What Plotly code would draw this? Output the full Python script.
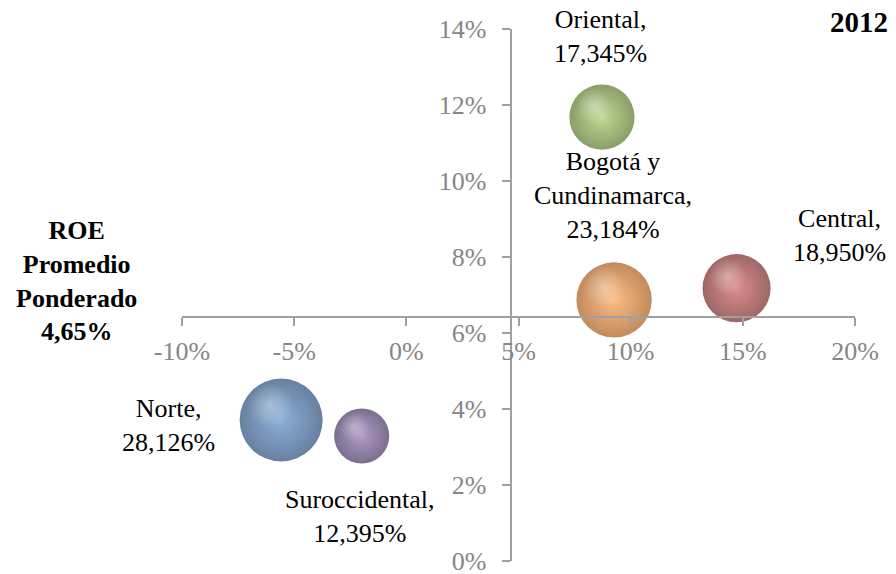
import numpy as np
import plotly.graph_objects as go

# Regional data (2012): x = ROE growth proxy, y = ROE, size = participation
regiones = ["Norte", "Suroccidental", "Oriental", "Bogotá y<br>Cundinamarca", "Central"]
eje_x = [-5.58, -1.99, 8.72, 9.26, 14.72]
eje_y = [3.71, 3.29, 11.68, 6.87, 7.18]
participacion = [28.126, 12.395, 17.345, 23.184, 18.950]

x_ticks = [-10, -5, 0, 5, 10, 15, 20]
y_ticks = [0, 2, 4, 6, 8, 10, 12, 14]
roe_promedio = 4.65      # vertical axis crosses here
cruce_y = 6.43           # horizontal axis crosses here

colores = ["#5a8cc8", "#8c70b0", "#a6c865", "#f9a050", "#cc5c58"]
bordes = ["#284a78", "#45305e", "#587528", "#a85818", "#742624"]

W, H = 896, 574
M = dict(l=182, r=41, t=29, b=13)
X_RANGE = [-10, 20]
Y_RANGE = [0, 14]
D_MAX = 83  # px diameter of the largest bubble
sizeref = 2.0 * max(participacion) / D_MAX ** 2

px_x = (W - M["l"] - M["r"]) / (X_RANGE[1] - X_RANGE[0])
px_y = (H - M["t"] - M["b"]) / (Y_RANGE[1] - Y_RANGE[0])
diam = D_MAX * np.sqrt(np.array(participacion) / max(participacion))

fig = go.Figure()

# spheres: radial shading from base colour in the centre to a darker rim
fig.add_trace(go.Scatter(
    x=eje_x, y=eje_y, mode="markers",
    marker=dict(size=participacion, sizemode="area", sizeref=sizeref,
                color=bordes, line=dict(width=0),
                gradient=dict(type="radial", color=colores)),
    hoverinfo="skip", cliponaxis=False, showlegend=False))

# specular highlight towards the upper left of each sphere
fig.add_trace(go.Scatter(
    x=list(np.array(eje_x) - 0.13 * diam / px_x),
    y=list(np.array(eje_y) + 0.17 * diam / px_y),
    mode="markers",
    marker=dict(size=list(np.array(participacion) * 0.3), sizemode="area",
                sizeref=sizeref, color="rgba(255,255,255,0)", line=dict(width=0),
                gradient=dict(type="radial", color="rgba(255,255,255,0.5)")),
    hoverinfo="skip", cliponaxis=False, showlegend=False))

serif = "Liberation Serif"
gris = "#868686"

axis_common = dict(showgrid=False, zeroline=False, showline=True, linecolor="#a0a0a0",
                   linewidth=2, ticks="outside", ticklen=8, tickwidth=2,
                   tickcolor="#a0a0a0", ticklabeloverflow="allow", automargin=False,
                   tickfont=dict(family=serif, size=26, color=gris))

fig.update_layout(
    width=W, height=H, margin=M,
    paper_bgcolor="white", plot_bgcolor="white",
    xaxis=dict(range=X_RANGE, tickvals=x_ticks, ticktext=[f"{v}%" for v in x_ticks],
               anchor="free", ticklabelstandoff=3,
               position=(cruce_y - Y_RANGE[0]) / (Y_RANGE[1] - Y_RANGE[0]),
               **axis_common),
    yaxis=dict(range=Y_RANGE, tickvals=y_ticks, ticktext=[f"{v}%" for v in y_ticks],
               anchor="free", ticklabelstandoff=10,
               position=(roe_promedio - X_RANGE[0]) / (X_RANGE[1] - X_RANGE[0]),
               **axis_common),
)

# data labels: name and participation, offset (px) from each bubble
desplaz = [(-113, -5), (-2, -81), (-1, 81), (-1, 104), (103, 53)]
for nombre, xv, yv, p, (dx, dy) in zip(regiones, eje_x, eje_y, participacion, desplaz):
    fig.add_annotation(x=xv, y=yv, xref="x", yref="y", showarrow=False,
                       text=f"{nombre},<br>{p:.3f}%".replace(".", ","),
                       xshift=dx, yshift=dy, align="center",
                       xanchor="center", yanchor="middle",
                       font=dict(family=serif, size=26, color="black"))

fig.add_annotation(x=-0.1575, y=0.526, xref="paper", yref="paper", showarrow=False,
                   xanchor="center", yanchor="middle",
                   text="<b>ROE<br>Promedio<br>Ponderado<br>" + f"{roe_promedio:.2f}%".replace(".", ",") + "</b>",
                   align="center", font=dict(family=serif, size=26, color="black"))
fig.add_annotation(x=1.006, y=1.0135, xref="paper", yref="paper", showarrow=False,
                   xanchor="center", yanchor="middle",
                   text="<b>2012</b>", font=dict(family=serif, size=29, color="black"))

fig.write_html("out.html")
